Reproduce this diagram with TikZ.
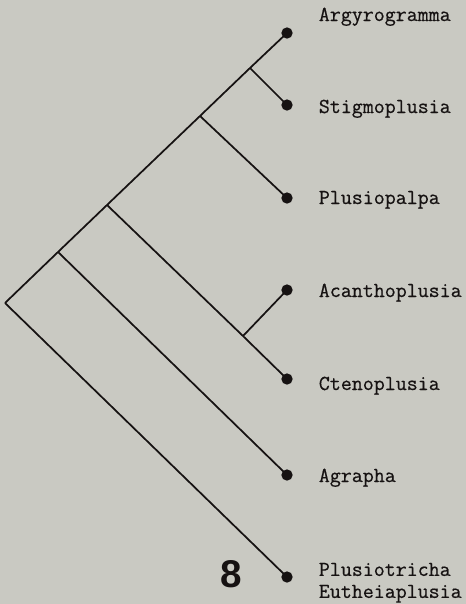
\documentclass[tikz,border=0pt]{standalone}
\usepackage{fontspec}
\usepackage{xcolor}
\usepackage{tikz}
\newfontfamily\numfont{Liberation Sans}
\newfontfamily\taxfont[FakeBold=0.6]{Latin Modern Mono}
\definecolor{paper}{RGB}{201,201,194}
\definecolor{ink}{RGB}{22,18,18}

\begin{document}
\begin{tikzpicture}[x=0.75pt, y=-0.75pt, line width=1.3pt, ink,
    leaf/.style={draw=none, fill=ink, circle, inner sep=0pt, minimum size=8.5pt},
    taxon/.style={anchor=base west, inner sep=0pt, font=\fontsize{16}{16.5}\selectfont\taxfont}]
    \fill[paper] (0,0) rectangle (466,604);
    \useasboundingbox (0,0) rectangle (466,604);

    % Leaves
    \node[leaf] (Argy) at (287,33) {};
    \node[leaf] (Stig) at (287,105) {};
    \node[leaf] (Plpa) at (287,198) {};
    \node[leaf] (Acan) at (287,290) {};
    \node[leaf] (Cten) at (287,379) {};
    \node[leaf] (Agra) at (287,475) {};
    \node[leaf] (Pltr) at (287,577) {};

    % Names
    \node[taxon] (ArgyName) at (318,21) {Argyrogramma};
    \node[taxon] (StigName) at (318,113) {Stigmoplusia};
    \node[taxon] (PlpaName) at (318,204) {Plusiopalpa};
    \node[taxon] (AcanName) at (318,297) {Acanthoplusia};
    \node[taxon] (CtenName) at (318,390) {Ctenoplusia};
    \node[taxon] (AgraName) at (318,482) {Agrapha};
    \node[taxon, anchor=north west, align=left] (PltrName) at (318,562) {Plusiotricha\\Eutheiaplusia};

    \node (FigNum) at (231,574) {\numfont\bfseries\fontsize{29}{29}\selectfont 8};

    % Branch points
    \coordinate (Root) at (5,303);
    \coordinate (jAgra) at (58,252);
    \coordinate (jCten) at (107,205);
    \coordinate (jPlpa) at (200,116);
    \coordinate (jStig) at (250,68);
    \coordinate (jAcan) at (243,336);

    \draw (Root) -- (jAgra) -- (jCten) -- (jPlpa) -- (jStig) -- (Argy.center);
    \draw (jStig) -- (Stig.center);
    \draw (jPlpa) -- (Plpa.center);
    \draw (jCten) -- (jAcan) -- (Cten.center);
    \draw (jAcan) -- (Acan.center);
    \draw (jAgra) -- (Agra.center);
    \draw (Root) -- (Pltr.center);
\end{tikzpicture}
\end{document}
